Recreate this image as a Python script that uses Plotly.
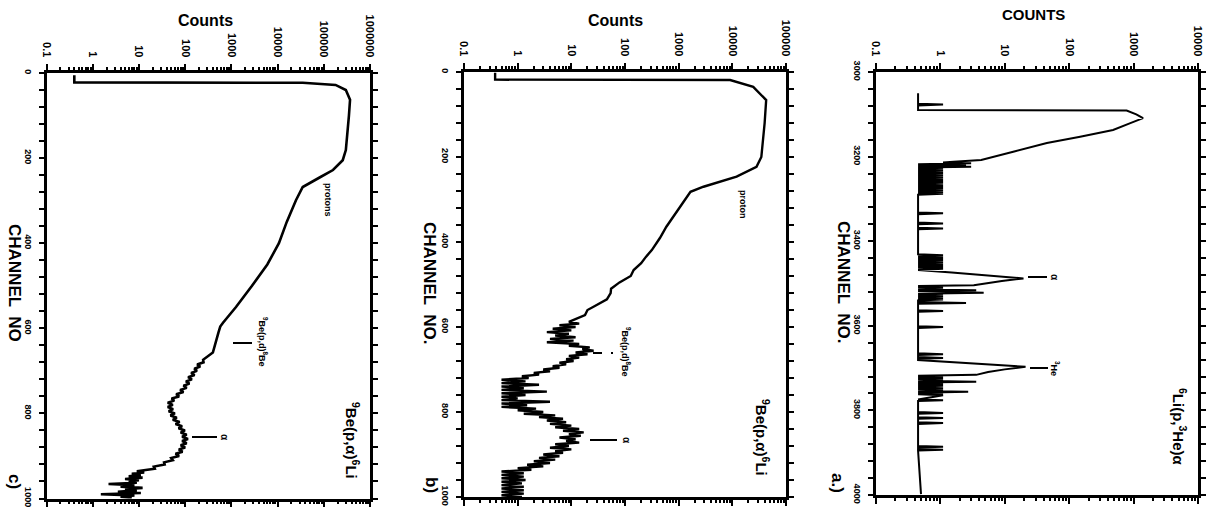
import plotly.graph_objects as go

# ---------------- data ----------------
# panel c) 9Be(p,a)6Li, thick target
c_channel = [5, 22, 23, 28, 40, 63, 100, 150, 181, 205, 228, 245, 268, 299, 350, 400, 450, 500, 550, 587,
             596, 610, 634, 650, 657, 674,
             680, 685, 690, 695, 700, 705, 710, 715, 720, 725,
             730, 735, 740, 745, 750, 755, 760, 765, 770, 775,
             780, 785, 790, 795, 800, 805, 810, 815, 820, 825,
             830, 835, 840, 845, 850, 855, 860, 865, 870, 875,
             880, 885, 890, 895, 900, 905, 910, 915, 920, 925,
             930,
             933, 936, 939, 942, 945, 948, 951, 954, 957, 960,
             963, 966, 969, 972, 975, 978, 981, 984, 987, 990,
             993, 996, 999]
c_counts = [0.4, 0.4, 35000, 180000, 300000, 370000, 350000, 320000, 300000, 257000, 158000, 83000, 35000, 25000,
            15800, 10700, 6000, 2800, 1260, 660,
            575, 525, 457, 427, 398, 245,
            250, 182, 212, 158, 180, 135, 160, 116, 140, 104,
            124, 92, 108, 78, 92, 64, 74, 51, 58, 42,
            54, 42, 55, 44, 60, 48, 66, 54, 76, 62,
            86, 72, 99, 80, 108, 86, 115, 86, 108, 80,
            100, 73, 88, 62, 74, 50, 54, 35, 36, 21,
            22,
            14, 9, 13, 7, 11, 6, 12, 5, 10, 6,
            9, 2.2, 8, 4, 12, 5, 9, 3.5, 11, 1.5,
            8, 4, 7]

# panel b) 9Be(p,a)6Li, thin target
b_channel = [2, 18, 19, 35, 66, 120, 200, 223, 246, 270, 282, 317, 364, 390, 419, 435, 450, 466, 480, 495,
             510, 520, 535, 550, 560, 572, 584,
             588, 592, 596, 600, 604, 608, 612, 616, 620, 624,
             628, 632, 636, 640, 644, 648, 652, 656, 660, 664,
             668, 672, 676, 680, 684, 688, 692, 696, 700, 704,
             708, 712, 716, 720, 724, 728, 732, 736, 740, 744,
             748, 752, 756, 760, 764, 768, 772, 776, 780, 784,
             788, 792, 796, 800, 804, 808, 812, 816, 820, 824,
             828, 832, 836, 840, 844, 848, 852, 856, 860, 864,
             868, 872, 876, 880, 884, 888, 892, 896, 900, 904,
             908, 912, 916, 920, 924, 928, 932, 936, 940, 944,
             948, 952, 956, 960, 964, 968, 972, 976, 980, 984,
             988, 992, 996, 1000]
b_counts = [0.38, 0.38, 9100, 24500, 42700, 40000, 34700, 28200, 12000, 2900, 1660, 1070, 590, 450, 316, 245,
            200, 145, 128, 79, 55, 54, 46, 28, 20, 18, 11,
            9, 14, 6, 12, 4.5, 10, 3.5, 9, 5, 12,
            4, 11, 3.5, 14, 9, 22, 16, 26, 12, 20,
            9, 14, 8, 11, 6, 8, 4.5, 6, 3, 4,
            2, 2.5, 1.2, 1.6, 0.5, 1.4, 0.5, 2.5, 0.5, 1.3,
            0.5, 3.5, 0.5, 1.4, 0.5, 1, 0.5, 4, 0.5, 1.5,
            0.5, 2.2, 1, 3, 1.3, 5, 2.5, 7, 3.5, 8,
            4, 10, 5, 14, 7, 17, 9, 15, 6, 12,
            8, 14, 5, 9, 4, 10, 5, 7, 3, 6,
            2.5, 5, 2, 4, 1.5, 3, 1, 1.8, 0.5, 1.3,
            0.5, 1.3, 0.5, 1.4, 0.5, 1.2, 0.5, 1.3, 0.5, 1.3,
            0.5, 1.3, 0.5, 1.2]

# panel a) 6Li(p,3He)a
a_channel = [3050, 3075, 3077, 3079, 3090, 3091, 3100, 3109, 3121, 3137, 3153, 3168, 3188, 3208, 3212,
             3214, 3216, 3218, 3220, 3222, 3224, 3226, 3228, 3230, 3232,
             3234, 3236, 3238, 3240, 3242, 3244, 3246, 3248, 3250, 3252,
             3254, 3256, 3258, 3260, 3262, 3264, 3266, 3268, 3270, 3272,
             3274, 3276, 3278, 3280, 3282, 3284, 3286, 3288, 3290,
             3332, 3334, 3336, 3356, 3358, 3360, 3368, 3370, 3372, 3431, 3433, 3435,
             3437, 3439, 3441, 3443, 3445, 3447, 3449, 3451, 3453, 3455,
             3457, 3459, 3461, 3463, 3465, 3468,
             3474, 3480, 3488, 3494, 3500, 3504,
             3506, 3508, 3510, 3512, 3514, 3516, 3518, 3520, 3522, 3524,
             3526, 3528, 3530, 3532, 3534, 3536, 3538, 3540,
             3544, 3546, 3548, 3563, 3565, 3567, 3601, 3603, 3605,
             3665, 3667, 3669, 3674, 3676, 3678,
             3681, 3686, 3691, 3697, 3703, 3709, 3716,
             3718, 3720, 3722, 3724, 3726, 3728, 3730, 3732, 3734, 3736,
             3738, 3740, 3742, 3744, 3746, 3748, 3750, 3752, 3754, 3756,
             3758, 3760, 3762, 3764,
             3774, 3776, 3778, 3804, 3806, 3808, 3816, 3818, 3820, 3828, 3830, 3832,
             3884, 3886, 3888, 3891, 3893, 3895, 3998]
a_counts = [0.45, 0.45, 1.1, 0.45, 0.45, 780, 1100, 1400, 890, 480, 148, 45, 14, 4.3, 1.6,
            1.1, 3, 0.45, 2.5, 0.45, 3, 0.45, 1.1, 0.45, 1.1,
            0.45, 1.1, 0.45, 1.1, 0.45, 1.1, 0.45, 1.1, 0.45, 1.1,
            0.45, 1.1, 0.45, 1.1, 0.45, 1.1, 0.45, 1.1, 0.45, 1.1,
            0.45, 1.1, 0.45, 1.1, 0.45, 1.1, 0.45, 1.1, 0.45,
            0.45, 1.1, 0.45, 0.45, 1.1, 0.45, 0.45, 1.1, 0.45, 0.45, 1.1, 0.45,
            1.1, 0.45, 1.1, 0.45, 1.1, 0.45, 1.1, 0.45, 1.1, 0.45,
            1.1, 0.45, 1.1, 0.45, 1.1, 0.45,
            1.5, 5, 19.5, 9, 4.5, 3.3,
            0.45, 1.1, 0.45, 1.1, 0.45, 3.6, 0.45, 1.1, 4.7, 0.45,
            1.1, 0.45, 1.1, 0.45, 1.1, 0.45, 1.1, 0.45,
            0.45, 2.5, 0.45, 0.45, 1.1, 0.45, 0.45, 1.1, 0.45,
            0.45, 1.1, 0.45, 0.45, 1.1, 0.45,
            0.45, 1.5, 5, 21, 10, 5.5, 3.6,
            0.45, 1.1, 0.45, 1.1, 0.45, 1.1, 0.45, 3.6, 0.45, 1.1,
            0.45, 1.1, 0.45, 1.1, 0.45, 1.1, 0.45, 1.1, 0.45, 2.7,
            0.45, 1.1, 0.45, 1.1,
            0.45, 1.1, 0.45, 0.45, 1.1, 0.45, 0.45, 1.1, 0.45, 0.45, 1.1, 0.45,
            0.45, 1.1, 0.45, 0.45, 1.1, 0.45, 0.5]

# tick values and labels
c_count_ticks = [0.1, 1, 10, 100, 1000, 10000, 100000, 1000000]
c_count_labels = ["0.1", "1", "10", "100", "1000", "10000", "100000", "1000000"]
b_count_ticks = [0.1, 1, 10, 100, 1000, 10000, 100000]
b_count_labels = ["0.1", "1", "10", "100", "1000", "10000", "100000"]
a_count_ticks = [0.1, 1, 10, 100, 1000, 10000]
a_count_labels = ["0.1", "1", "10", "100", "1000", "10000"]
cb_channel_ticks = [0, 200, 400, 600, 800, 1000]
a_channel_ticks = [3000, 3200, 3400, 3600, 3800, 4000]

# ---------------- layout helpers ----------------
W, H = 1210, 513
def fx(px):
    return px / W
def fy(py):
    return 1 - py / H

FONT = "Liberation Sans"

def minor_log(ticks):
    vals = []
    for t in ticks[:-1]:
        for m in range(2, 10):
            vals.append(t * m)
    return vals

fig = go.Figure()

panels = [
    dict(ch=c_channel, cnt=c_counts, xd=(46.5, 370), yd=(73, 498.5), xr=(-1, 6), yr=(1000, 0),
         xt=c_count_ticks, xl=c_count_labels, yt=cb_channel_ticks, lw=2.6),
    dict(ch=b_channel, cnt=b_counts, xd=(464, 786), yd=(72, 497), xr=(-1, 5), yr=(1000, 0),
         xt=b_count_ticks, xl=b_count_labels, yt=cb_channel_ticks, lw=2.4),
    dict(ch=a_channel, cnt=a_counts, xd=(876, 1198), yd=(72, 495), xr=(-1, 4), yr=(4000, 3000),
         xt=a_count_ticks, xl=a_count_labels, yt=a_channel_ticks, lw=2.0),
]

layout_axes = {}
for i, p in enumerate(panels, start=1):
    xn = "x" if i == 1 else f"x{i}"
    yn = "y" if i == 1 else f"y{i}"
    fig.add_trace(go.Scatter(x=p["cnt"], y=p["ch"], mode="lines",
                             line=dict(color="black", width=p["lw"]),
                             xaxis=xn, yaxis=yn, showlegend=False, hoverinfo="skip"))
    xkey = "xaxis" if i == 1 else f"xaxis{i}"
    ykey = "yaxis" if i == 1 else f"yaxis{i}"
    layout_axes[xkey] = dict(
        type="log", range=list(p["xr"]), domain=[fx(p["xd"][0]), fx(p["xd"][1])],
        anchor=yn, side="top", showline=True, linewidth=2.5, linecolor="black",
        mirror="ticks", ticks="outside", ticklen=6, tickwidth=2, tickcolor="black",
        tickvals=p["xt"], ticktext=p["xl"], tickangle=90,
        tickfont=dict(family=FONT, size=11, color="black", weight="bold"),
        ticklabelstandoff=3,
        showgrid=False, zeroline=False, automargin=False,
        minor=dict(tickvals=minor_log(p["xt"]), ticks="outside", ticklen=3,
                   tickwidth=1.5, tickcolor="black", showgrid=False),
    )
    layout_axes[ykey] = dict(
        range=list(p["yr"]), domain=[fy(p["yd"][1]), fy(p["yd"][0])],
        anchor=xn, side="left", showline=True, linewidth=2.5, linecolor="black",
        mirror="ticks", ticks="outside", ticklen=5, tickwidth=2, tickcolor="black",
        tickvals=p["yt"], ticktext=[str(v) for v in p["yt"]], tickangle=90,
        tickfont=dict(family=FONT, size=9, color="black", weight="bold"),
        ticklabelstandoff=3,
        showgrid=False, zeroline=False, automargin=False,
        minor=dict(dtick=40, tick0=p["yt"][0], ticks="outside", ticklen=5,
                   tickwidth=1.5, tickcolor="black", showgrid=False),
    )

fig.update_layout(width=W, height=H, margin=dict(l=0, r=0, t=0, b=0),
                  paper_bgcolor="white", plot_bgcolor="white", **layout_axes)

def note(px, py, text, size, angle=90, weight="bold"):
    fig.add_annotation(x=fx(px), y=fy(py), xref="paper", yref="paper", text=text,
                       textangle=angle, showarrow=False, xanchor="center", yanchor="middle",
                       font=dict(family=FONT, size=size, color="black", weight=weight))

def lead(x0, x1, py, dash="solid"):
    fig.add_shape(type="line", xref="paper", yref="paper", x0=fx(x0), x1=fx(x1),
                  y0=fy(py), y1=fy(py), line=dict(color="black", width=2, dash=dash))

# panel c
note(205, 20, "Counts", 16, angle=0)
note(15, 283, "CHANNEL  NO", 17)
note(15, 481, "c)", 17)
note(328, 200, "protons", 9)
note(263, 342, "<sup>9</sup>Be(p,d)<sup>8</sup>Be", 9)
lead(233, 252, 343)
note(225, 437, "α", 10)
lead(192, 217, 437)
note(353, 440, "<sup>9</sup>Be(p,α)<sup>6</sup>Li", 15)

# panel b
note(616, 20, "Counts", 16, angle=0)
note(430, 283, "CHANNEL  NO.", 17)
note(432, 485, "b)", 17)
note(743, 204, "proton", 9)
note(626, 352, "<sup>9</sup>Be(p,d)<sup>8</sup>Be", 9)
lead(593, 613, 353, dash="dash")
note(627, 440, "α", 10)
lead(590, 617, 440)
note(763, 437, "<sup>9</sup>Be(p,α)<sup>6</sup>Li", 15)

# panel a
note(1033, 15, "COUNTS", 15, angle=0)
note(844, 282, "CHANNEL  NO.", 17)
note(838, 483, "a.)", 17)
note(1055, 277, "α", 10)
lead(1028, 1047, 277)
note(1055, 368, "<sup>3</sup>He", 9)
lead(1030, 1048, 368)
note(1180, 427, "<sup>6</sup>Li(p,<sup>3</sup>He)α", 15)

fig.write_html("out.html")
